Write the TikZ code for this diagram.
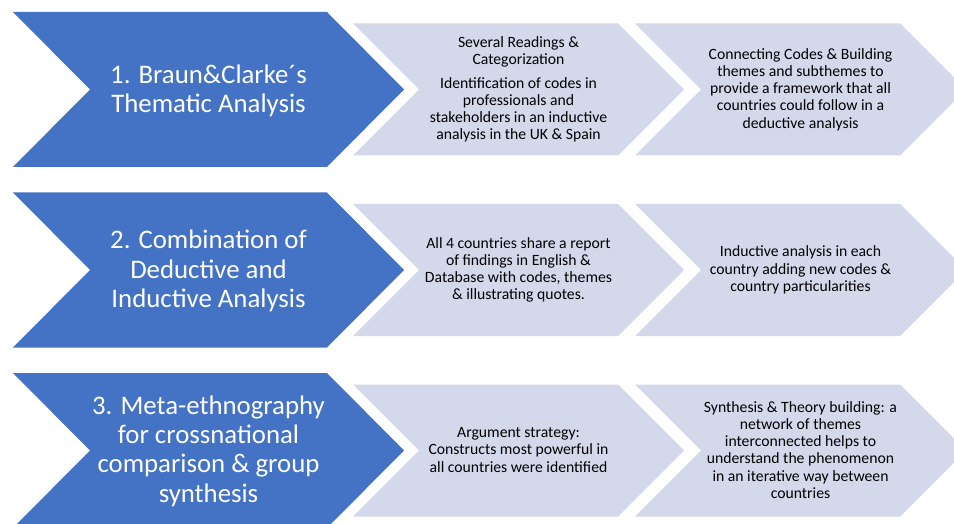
\documentclass[tikz,border=0pt]{standalone}
\usepackage{fontspec}
\setmainfont{Carlito}
\definecolor{chevblue}{HTML}{4472C4}
\definecolor{chevlight}{HTML}{D3D8EB}
\newcommand\mychev[6]{%
  \fill[#6] ({#1},{#2-#4}) -- ({#3},{#2-#4}) -- ({#3+#5},{#2}) -- ({#3},{#2+#4}) -- ({#1},{#2+#4}) -- ({#1+#5},{#2}) -- cycle;}
\begin{document}
\begin{tikzpicture}[x=1pt,y=-1pt,
  bluetext/.style={text=white,align=center,font=\fontsize{26.8}{29.4}\selectfont,inner sep=0pt},
  lighttext/.style={text=black,align=center,font=\fontsize{15.7}{17.2}\selectfont,inner sep=0pt}]
\useasboundingbox (0,0) rectangle (954,524);
\clip (0,0) rectangle (954,524);
\fill[white] (0,0) rectangle (954,524);
% row 1
\mychev{13}{89.5}{327}{77.5}{77}{chevblue}
\mychev{353}{89.5}{618}{66}{66}{chevlight}
\mychev{635}{89.5}{900}{66}{66}{chevlight}
% row 2
\mychev{13}{270}{327}{77.5}{77}{chevblue}
\mychev{353}{270}{618}{66}{66}{chevlight}
\mychev{635}{270}{900}{66}{66}{chevlight}
% row 3
\mychev{13}{450.5}{327}{77.5}{77}{chevblue}
\mychev{353}{450.5}{618}{66}{66}{chevlight}
\mychev{635}{450.5}{900}{66}{66}{chevlight}
% texts
\node[bluetext] (b1) at (208.5,91) {1. Braun\&Clarke´s\\Thematic Analysis};
\node[bluetext] (b2) at (208.5,271) {2. Combination of\\Deductive and\\Inductive Analysis};
\node[bluetext] (b3) at (208.5,451) {3. Meta-ethnography\\for crossnational\\comparison \& group\\synthesis};
\node[lighttext] (l11) at (518.5,89.5) {Several Readings \&\\Categorization\\[6.5pt]Identification of codes in\\professionals and\\stakeholders in an inductive\\analysis in the UK \& Spain};
\node[lighttext] (l12) at (800.5,89.5) {Connecting Codes \& Building\\themes and subthemes to\\provide a framework that all\\countries could follow in a\\deductive analysis};
\node[lighttext] (l21) at (518.5,270) {All 4 countries share a report\\of findings in English \&\\Database with codes, themes\\\& illustrating quotes.};
\node[lighttext] (l22) at (800.5,270) {Inductive analysis in each\\country adding new codes \&\\country particularities};
\node[lighttext] (l31) at (518.5,450) {Argument strategy:\\Constructs most powerful in\\all countries were identified};
\node[lighttext] (l32) at (800.5,450) {Synthesis \& Theory building: a\\network of themes\\interconnected helps to\\understand the phenomenon\\in an iterative way between\\countries};
\end{tikzpicture}
\end{document}
